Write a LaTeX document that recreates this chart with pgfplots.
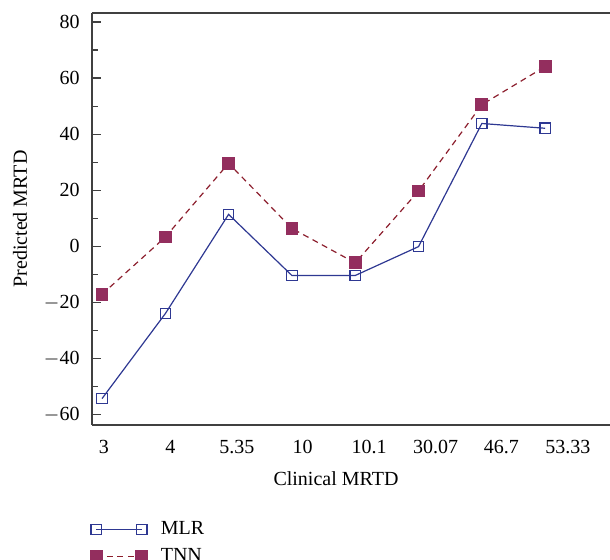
\documentclass[border=0pt]{standalone}
\usepackage{fontspec}
\setmainfont{Liberation Serif}
\usepackage{pgfplots}
\pgfplotsset{compat=1.18}

\definecolor{mlrblue}{RGB}{46,56,146}
\definecolor{tnnmark}{RGB}{147,46,94}
\definecolor{tnnline}{RGB}{140,30,45}
\definecolor{axisgray}{RGB}{64,64,64}

\begin{document}
\begin{tikzpicture}
\path[use as bounding box] (-46pt,-67.5pt) rectangle (259pt,212.5pt);
\begin{axis}[
  at={(0,0)}, anchor=south west,
  scale only axis,
  width=259pt, height=206pt,
  font=\fontsize{10}{12}\selectfont,
  axis x line*=box, axis y line*=left,
  axis line style={-, axisgray, line width=0.9pt},
  xmin=-0.158, xmax=8.025,
  ymin=-63.7, ymax=83.2,
  xtick={0.03,1.08,2.13,3.17,4.22,5.27,6.31,7.36},
  xticklabels={3,4,5.35,10,10.1,30.07,46.7,53.33},
  x tick style={draw=none},
  xticklabel style={yshift=-4pt},
  ytick={-60,-40,-20,0,20,40,60,80},
  yticklabels={{$-$60},{$-$40},{$-$20},0,20,40,60,80},
  minor y tick num=1,
  tick align=inside, ytick align=inside,
  y tick style={axisgray, line width=0.6pt},
  major tick length=4.75pt, minor tick length=3pt,
  yticklabel style={xshift=-2.7pt},
  xlabel={Clinical MRTD},
  xlabel style={at={(axis description cs:0.471,0)}, anchor=center, yshift=-27pt},
  ylabel={Predicted MRTD},
  ylabel style={at={(axis description cs:-0.139,0.5)}, anchor=center},
  legend style={at={(axis description cs:0,0)}, anchor=north west,
    xshift=-4pt, yshift=-44pt, draw=none, fill=none,
    row sep=1.5pt, font=\fontsize{10}{12}\selectfont,
    legend cell align=left},
  legend image code/.code={\draw[#1] plot coordinates {(0pt,0pt) (22.75pt,0pt)};
    \path (30pt,0pt);},
]
\addplot[mlrblue, line width=0.6pt, mark=square, mark size=2.6pt,
  mark options={fill=white, solid}]
  coordinates {(0,-54.3) (1,-24.0) (2,11.4) (3,-10.4) (4,-10.4) (5,-0.1) (6,43.8) (7,42.1)};
\addlegendentry{MLR}
\addplot[tnnline, line width=0.6pt, dash pattern=on 3pt off 2.3pt, mark=square*, mark size=2.9pt,
  mark options={fill=tnnmark, draw=tnnmark, solid}]
  coordinates {(0,-17.1) (1,3.3) (2,29.6) (3,6.4) (4,-5.9) (5,19.7) (6,50.5) (7,64.1)};
\addlegendentry{TNN}
\end{axis}
\end{tikzpicture}
\end{document}
